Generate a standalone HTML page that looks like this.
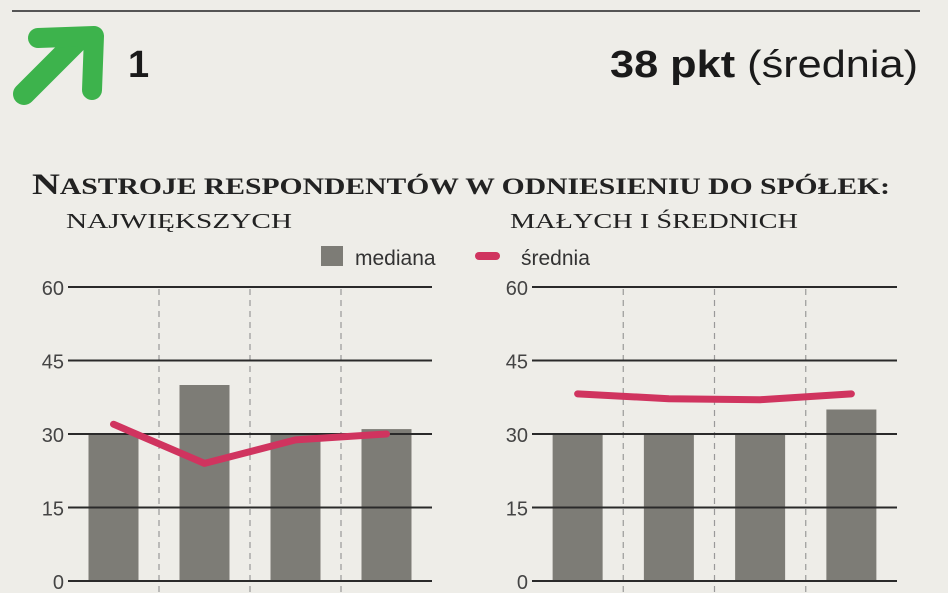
<!DOCTYPE html>
<html><head><meta charset="utf-8">
<style>
html,body{margin:0;padding:0;background:#eeede8;}
body{width:948px;height:593px;overflow:hidden;position:relative;}
svg{position:absolute;left:0;top:0;}
</style></head>
<body>
<svg width="948" height="593" viewBox="0 0 948 593">
<line x1="12" y1="11" x2="920" y2="11" stroke="#555" stroke-width="2"/>
<g>
<path d="M24 94 L76 42" fill="none" stroke="#3db34c" stroke-width="22" stroke-linecap="round"/>
<path d="M38 38 L94 36 L92 90" fill="none" stroke="#3db34c" stroke-width="20" stroke-linecap="round" stroke-linejoin="round"/>
</g>
<text x="128" y="77" font-family="Liberation Sans, sans-serif" font-weight="bold" font-size="38" fill="#1a1a1a">1</text>
<text x="610" y="77" textLength="308" lengthAdjust="spacingAndGlyphs" font-family="Liberation Sans, sans-serif" font-size="38" fill="#1a1a1a"><tspan font-weight="bold">38 pkt</tspan> (średnia)</text>
<text x="32" y="194" textLength="858" lengthAdjust="spacingAndGlyphs" font-family="Liberation Serif, serif" font-weight="bold" font-size="23" fill="#222"><tspan font-size="30">N</tspan>ASTROJE RESPONDENTÓW W ODNIESIENIU DO SPÓŁEK:</text>
<text x="66" y="228" textLength="226" lengthAdjust="spacingAndGlyphs" font-family="Liberation Serif, serif" font-size="21" fill="#222">NAJWIĘKSZYCH</text>
<text x="510" y="228" textLength="288" lengthAdjust="spacingAndGlyphs" font-family="Liberation Serif, serif" font-size="21" fill="#222">MAŁYCH I ŚREDNICH</text>
<g>
<rect x="321" y="246" width="22" height="20" fill="#7d7c76"/>
<text x="355" y="265" font-family="Liberation Sans, sans-serif" font-size="21" fill="#333">mediana</text>
<line x1="479" y1="256" x2="496" y2="256" stroke="#d0345f" stroke-width="8" stroke-linecap="round"/>
<text x="521" y="265" font-family="Liberation Sans, sans-serif" font-size="21" fill="#333">średnia</text>
</g>
<g id="charts"></g>
</svg>
<script>
const ticks = [0, 15, 30, 45, 60];
const leftMedian = [30, 40, 30, 31];
const leftMean = [32, 24, 28.8, 30];
const rightMedian = [30, 30, 30, 35];
const rightMean = [38.2, 37.2, 37, 38.2];

const NS = 'http://www.w3.org/2000/svg';
const root = document.getElementById('charts');
function mk(tag, attrs, parent){const e=document.createElementNS(NS,tag);for(const k in attrs)e.setAttribute(k,attrs[k]);parent.appendChild(e);return e;}
const y0 = 581, yTop = 287, maxV = 60;
function yScale(v){return y0 - (v/maxV)*(y0-yTop);}

function panel(x0, x1, median, mean, name){
  const g = mk('g', {}, root);
  
  
  const n = median.length;
  const step = (x1 - x0) / n;
  function xc(i){return x0 + step*(i+0.5);}
  for(let i=1;i<n;i++){
    const l = mk('line', {x1:x0+step*i, x2:x0+step*i, y1:yTop+2, y2:y0+12, stroke:'#999', 'stroke-width':1.2, 'stroke-dasharray':'6,5'}, g);
    
    
  }
  median.forEach((v,i)=>{
    const r = mk('rect', {x:xc(i)-25, y:yScale(v), width:50, height:y0-yScale(v), fill:'#7d7c76'}, g);
    
    
  });
  ticks.forEach(t=>{
    const l = mk('line', {x1:x0, x2:x1, y1:yScale(t), y2:yScale(t), stroke:'#2a2a2a', 'stroke-width':2}, g);
    
    
    const tx = mk('text', {x:x0-4, y:yScale(t)+8, 'text-anchor':'end', 'font-family':'Liberation Sans, sans-serif', 'font-size':20, fill:'#444'}, g);
    tx.textContent = t;
    
    
  });
  const pts = mean.map((v,i)=>xc(i)+','+yScale(v)).join(' ');
  const pl = mk('polyline', {points:pts, fill:'none', stroke:'#d0345f', 'stroke-width':7, 'stroke-linecap':'round', 'stroke-linejoin':'round'}, g);
  
  
}
panel(68, 432, leftMedian, leftMean, 'largest-companies-chart');
panel(532, 897, rightMedian, rightMean, 'small-medium-companies-chart');
</script>
</body></html>
